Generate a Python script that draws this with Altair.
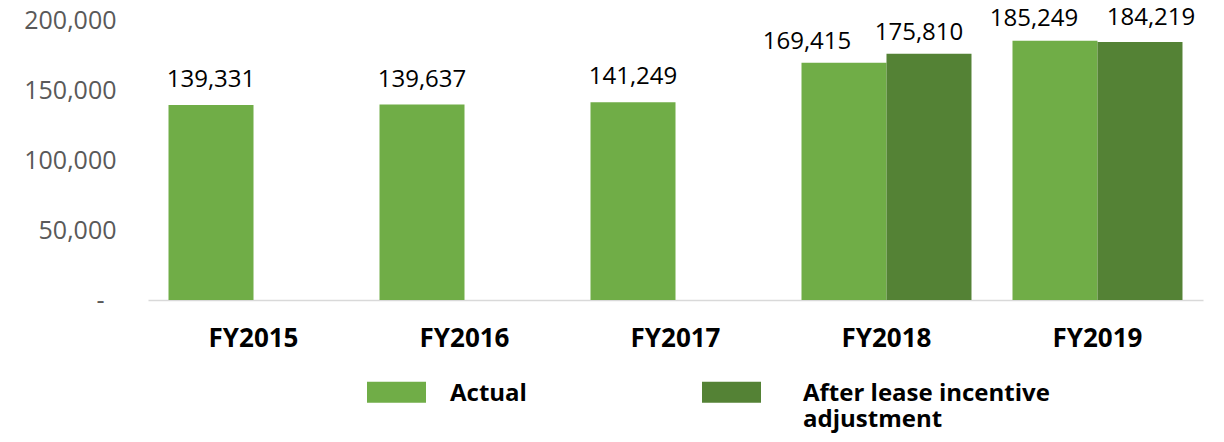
import altair as alt
import pandas as pd

years = ["FY2015", "FY2016", "FY2017", "FY2018", "FY2019"]
actual = [139331, 139637, 141249, 169415, 185249]
adjusted = [None, None, None, 175810, 184219]
series = ["Actual", "After lease incentive adjustment"]
colors = ["#70AD47", "#548235"]
y_ticks = [0, 50000, 100000, 150000, 200000]

rows = []
for yr, a, b in zip(years, actual, adjusted):
    rows.append({"year": yr, "series": series[0], "value": a})
    if b is not None:
        rows.append({"year": yr, "series": series[1], "value": b})
df = pd.DataFrame(rows)

FONT = "Open Sans"
SP = "\u2800"

# label nudges (pixels) used in the original to keep paired labels apart
nudges = {
    ("FY2018", series[0]): (-37, -14),
    ("FY2018", series[1]): (-10, -14),
    ("FY2019", series[0]): (-21, -15),
    ("FY2019", series[1]): (11, -17),
}

x = alt.X(
    "year:N", sort=years, title=None,
    scale=alt.Scale(paddingInner=0.1943, paddingOuter=0.0972),
    axis=alt.Axis(labelAngle=0, labelFont=FONT, labelFontSize=26, labelFontWeight="bold",
                  labelColor="black", labelPadding=25, ticks=False,
                  domainColor="#d9d9d9", domainWidth=1.5),
)
xo = alt.XOffset("series:N", sort=series,
                 scale=alt.Scale(domain=series, paddingInner=0, paddingOuter=0))
y = alt.Y(
    "value:Q", title=None,
    scale=alt.Scale(domain=[0, 200000], nice=False),
    axis=alt.Axis(values=y_ticks,
                  labelExpr="datum.value == 0 ? '-' : format(datum.value, ',')",
                  labelPadding={"condition": {"test": "datum.value == 0", "value": 44},
                                "value": 32},
                  domain=False, ticks=False, grid=False, labelFont=FONT, labelFontSize=25,
                  labelColor="#595959"),
)
color = alt.Color(
    "series:N", sort=series,
    scale=alt.Scale(domain=series, range=colors),
    legend=alt.Legend(
        title=None, orient="none", legendX=219, legendY=332, direction="horizontal",
        symbolType="M-1,0H1V0.712H-1Z", symbolSize=3481, symbolStrokeWidth=0,
        symbolOpacity=1,
        labelFont=FONT, labelFontSize=24, labelFontWeight="bold", labelColor="black",
        labelBaseline="top",
        labelOffset=24, columnPadding=175, labelLimit=500, padding=0,
        labelExpr="datum.label == 'After lease incentive adjustment' ? ['" + SP + "After lease incentive', '" + SP + "adjustment'] : [datum.label, '']",
    ),
)

bars = alt.Chart(df).mark_bar(opacity=1).encode(x=x, xOffset=xo, y=y, color=color)

text_enc = dict(x=x, xOffset=xo, y=y, text=alt.Text("value:Q", format=","))
layers = [bars]
layers.append(
    alt.Chart(df).transform_filter(
        alt.FieldOneOfPredicate(field="year", oneOf=years[:3])
    ).mark_text(baseline="alphabetic", dy=-18, font=FONT, fontSize=24, color="black")
    .encode(**text_enc)
)
for (yr, s), (ddx, ddy) in nudges.items():
    layers.append(
        alt.Chart(df).transform_filter(
            (alt.datum.year == yr) & (alt.datum.series == s)
        ).mark_text(baseline="alphabetic", dx=ddx, dy=ddy, font=FONT, fontSize=24,
                    color="black")
        .encode(**text_enc)
    )

chart = alt.layer(*layers).properties(
    width=1055, height=280,
    autosize=alt.AutoSizeParams(type="none"),
    padding={"left": 140, "top": 12, "right": 13, "bottom": 142},
).configure_view(stroke=None)

chart.save("out.html", embed_options={"renderer": "svg", "actions": False})
